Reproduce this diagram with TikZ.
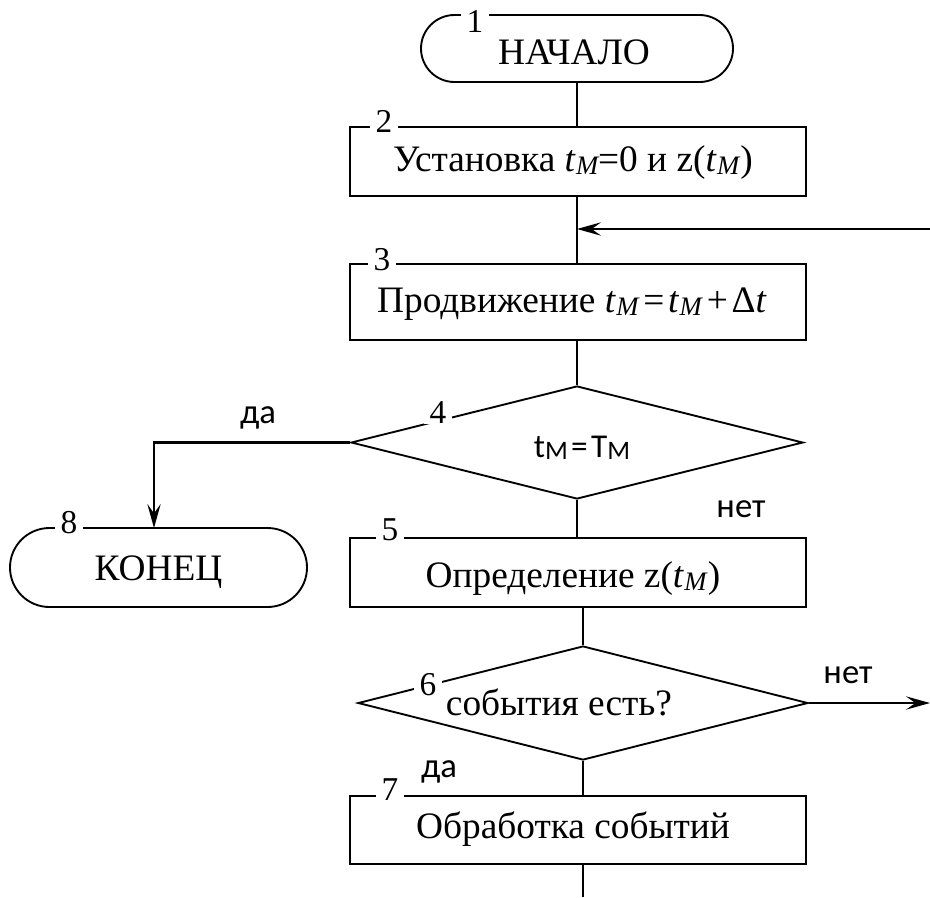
\documentclass[tikz,border=0pt]{standalone}
\usepackage{fontspec}
\setmainfont{Liberation Serif}
\newfontfamily\answerfont{Carlito}
\usetikzlibrary{shapes.misc,shapes.geometric,arrows.meta}

% italic t with a lowered italic M (model time)
\newcommand\tmodel{\textit{t}\kern0.01em\raisebox{-0.1em}{\fontsize{20}{20}\selectfont\textit{M}}}
% sans M index in the decision block
\newcommand\sanssub[1]{\raisebox{-0.06em}{\fontsize{20}{20}\selectfont #1}}

\tikzset{
  outline/.style={draw, line width=1.4pt, inner sep=0pt},
  procbox/.style={outline, rectangle},
  termbox/.style={outline, rounded rectangle},
  decbox/.style={outline, diamond},
  blocktext/.style={font=\fontsize{28}{32}\selectfont, inner sep=0pt, anchor=base},
  numtag/.style={fill=white, inner xsep=4pt, inner ysep=1pt, anchor=base, font=\fontsize{25}{25}\selectfont},
  answer/.style={font=\answerfont\fontsize{26}{26}\selectfont, inner sep=0pt, anchor=base},
  link/.style={line width=1.4pt},
  arrowlink/.style={line width=1.7pt, -{Stealth[length=18pt,width=10pt,inset=7pt]}}
}

\begin{document}
\begin{tikzpicture}[x=0.75pt,y=-0.75pt]
\useasboundingbox (0,0) rectangle (930,897);

% ---- block outlines ----
\node[termbox, minimum width=234pt,    minimum height=50.25pt] (start)  at (577,48.5) {};
\node[procbox, minimum width=342pt,    minimum height=51.75pt] (init)   at (578,161.5) {};
\node[procbox, minimum width=342pt,    minimum height=57pt]    (adv)    at (578,302) {};
\node[decbox,  minimum width=339pt,    minimum height=84.75pt] (check)  at (577,442.5) {};
\node[termbox, minimum width=222.75pt, minimum height=59.25pt] (stop)   at (158.5,567.5) {};
\node[procbox, minimum width=342pt,    minimum height=51.75pt] (state)  at (578,572.5) {};
\node[decbox,  minimum width=337.5pt,  minimum height=85.5pt]  (events) at (583,703) {};
\node[procbox, minimum width=342pt,    minimum height=51pt]    (handle) at (578,830) {};

% ---- block texts (placed on their baselines) ----
\node[blocktext] (startT)  at (574,64)  {НАЧАЛО};
\node[blocktext] (initT)   at (573,171) {Установка \tmodel\kern-0.04em=0 и z(\tmodel)};
\node[blocktext] (advT)    at (572,312) {Продвижение \tmodel\kern0.1em=\kern0.1em\tmodel\kern0.1em+\kern0.1emΔ\textit{t}};
\node[answer, font=\answerfont\fontsize{25}{25}\selectfont] (checkT) at (582,457) {t\sanssub{M}\kern0.1em=\kern0.1emT\sanssub{M}};
\node[blocktext] (stopT)   at (158.5,580) {КОНЕЦ};
\node[blocktext] (stateT)  at (573,587) {Определение z(\tmodel)};
\node[blocktext] (eventsT) at (559,715) {события есть?};
\node[blocktext] (handleT) at (573,838) {Обработка событий};

% ---- block numbers on the outlines ----
\node[numtag] (n1) at (475,32)  {1};
\node[numtag] (n2) at (384,132) {2};
\node[numtag] (n3) at (382,270) {3};
\node[numtag] (n4) at (438,423) {4};
\node[numtag] (n5) at (390,540) {5};
\node[numtag] (n8) at (69,533)  {8};
\node[numtag] (n6) at (428,695) {6};
\node[numtag] (n7) at (390,800) {7};

% ---- connectors ----
\coordinate (loopin)  at (930,229);
\coordinate (loopout) at (930,703);
\coordinate (stopin)  at (154,528);
\coordinate (exit)    at (583,897);

\draw[link] (start.south) -- (start.south |- init.north);
\draw[link] (start.south |- init.south) -- (start.south |- adv.north);
\draw[arrowlink] (loopin) -- (loopin -| start.south);
\draw[link] (start.south |- adv.south) -- (check.north);
\draw[arrowlink] (check.west) -| (stopin);
\draw[link] (check.south) -- (check.south |- state.north);
\draw[link] (exit |- state.south) -- (events.north);
\draw[arrowlink] (events.east) -- (loopout);
\draw[link] (events.south) -- (events.south |- handle.north);
\draw[link] (exit |- handle.south) -- (exit);

% ---- branch answers (on their baselines) ----
\node[answer] (yes4) at (258,423) {да};
\node[answer] (no4)  at (741,517) {нет};
\node[answer] (no6)  at (848,683) {нет};
\node[answer] (yes6) at (439,777) {да};
\end{tikzpicture}
\end{document}
